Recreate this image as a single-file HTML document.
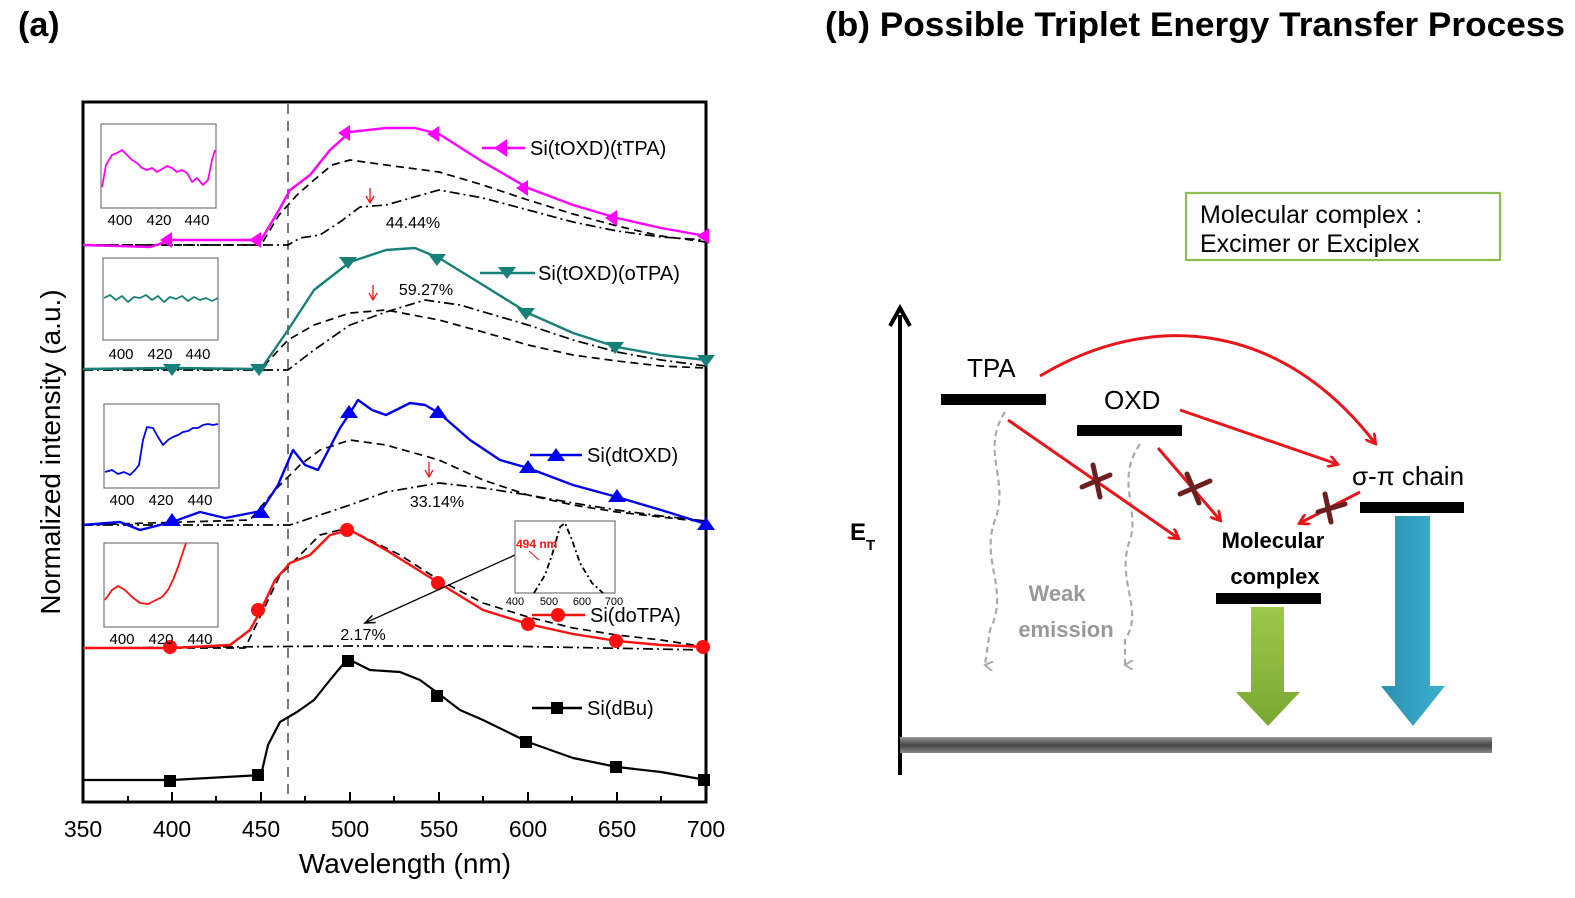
<!DOCTYPE html>
<html><head><meta charset="utf-8"><style>html,body{margin:0;padding:0;background:#fff}svg{display:block}</style></head>
<body>
<svg width="1575" height="898" viewBox="0 0 1575 898" xmlns="http://www.w3.org/2000/svg" font-family="Liberation Sans, sans-serif">
<defs>
<marker id="ra" markerWidth="12" markerHeight="12" refX="9" refY="6" orient="auto" markerUnits="userSpaceOnUse"><path d="M0,0 L10,6 L0,12" fill="none" stroke="#e8161a" stroke-width="2.8"/></marker>
<marker id="ga" markerWidth="10" markerHeight="10" refX="5" refY="8" orient="auto" markerUnits="userSpaceOnUse"><path d="M0,0 L5,8 L10,0" fill="none" stroke="#aaa" stroke-width="2"/></marker>
<marker id="ka" markerWidth="12" markerHeight="10" refX="10" refY="5" orient="auto" markerUnits="userSpaceOnUse"><path d="M0,1 L10,5 L0,9" fill="none" stroke="#000" stroke-width="1.5"/></marker>
<linearGradient id="gr" x1="0" y1="0" x2="0" y2="1"><stop offset="0" stop-color="#9cc94a"/><stop offset="1" stop-color="#7aa732"/></linearGradient>
<linearGradient id="bl" x1="0" y1="0" x2="1" y2="0"><stop offset="0" stop-color="#2b90b0"/><stop offset="1" stop-color="#3bb0d0"/></linearGradient>
<linearGradient id="gnd" x1="0" y1="0" x2="0" y2="1"><stop offset="0" stop-color="#999"/><stop offset="0.5" stop-color="#444"/><stop offset="1" stop-color="#888"/></linearGradient>
</defs>
<text x="18" y="36" font-size="34" font-weight="bold" font-family="Liberation Sans Narrow, Liberation Sans, sans-serif">(a)</text>
<text x="825" y="36" font-size="34" font-weight="bold" font-family="Liberation Sans Narrow, Liberation Sans, sans-serif" textLength="740" lengthAdjust="spacingAndGlyphs">(b)  Possible Triplet Energy Transfer Process</text>

<rect x="83" y="102" width="623" height="700" fill="none" stroke="#000" stroke-width="3"/>
<g stroke="#000" stroke-width="2">
<line x1="83" y1="802" x2="83" y2="792"/><line x1="128" y1="802" x2="128" y2="796"/><line x1="172" y1="802" x2="172" y2="792"/><line x1="216" y1="802" x2="216" y2="796"/><line x1="261" y1="802" x2="261" y2="792"/><line x1="305" y1="802" x2="305" y2="796"/><line x1="350" y1="802" x2="350" y2="792"/><line x1="394" y1="802" x2="394" y2="796"/><line x1="439" y1="802" x2="439" y2="792"/><line x1="483" y1="802" x2="483" y2="796"/><line x1="528" y1="802" x2="528" y2="792"/><line x1="572" y1="802" x2="572" y2="796"/><line x1="617" y1="802" x2="617" y2="792"/><line x1="661" y1="802" x2="661" y2="796"/>
</g>
<g font-size="23" text-anchor="middle">
<text x="83" y="837">350</text><text x="172" y="837">400</text><text x="261" y="837">450</text><text x="350" y="837">500</text><text x="439" y="837">550</text><text x="528" y="837">600</text><text x="617" y="837">650</text><text x="706" y="837">700</text>
</g>
<text x="405" y="873" font-size="28" text-anchor="middle">Wavelength (nm)</text>
<text transform="translate(60,452) rotate(-90)" font-size="28" text-anchor="middle">Normalized intensity (a.u.)</text>
<line x1="288" y1="104" x2="288" y2="800" stroke="#777" stroke-width="2" stroke-dasharray="10,7"/>

<g fill="none" stroke-linejoin="round">
<polyline stroke="#000" stroke-width="1.7" stroke-dasharray="8,5" points="83,245 261,245 279,215 297,195 314,180 332,165 350,160 386,165 439,172 483,185 528,200 573,214 617,226 661,236 706,242"/>
<polyline stroke="#000" stroke-width="1.7" stroke-dasharray="10,4,2,4" points="83,245 288,245 300,238 320,235 340,222 360,207 386,205 439,190 483,198 528,210 573,222 617,231 661,237 706,240"/>
<polyline stroke="#ff00ff" stroke-width="2.4" points="83,245 150,247 172,240 261,240 279,210 290,190 310,175 330,150 350,132 386,128 415,128 439,134 483,162 528,188 573,205 617,218 661,228 706,236"/>
<polyline stroke="#000" stroke-width="1.7" stroke-dasharray="8,5" points="83,369 261,369 288,340 314,325 350,313 386,310 439,320 483,332 528,345 573,355 617,361 661,366 706,368"/>
<polyline stroke="#000" stroke-width="1.7" stroke-dasharray="10,4,2,4" points="83,370 288,370 314,350 350,325 386,312 425,300 460,305 528,325 573,340 617,352 661,360 706,366"/>
<polyline stroke="#178078" stroke-width="2.4" points="83,369 172,368 261,369 288,330 314,290 350,262 386,250 415,248 439,258 483,285 528,313 573,333 617,347 661,355 706,360"/>
<polyline stroke="#000" stroke-width="1.7" stroke-dasharray="8,5" points="83,525 250,520 275,490 300,465 320,450 350,440 386,445 439,460 483,480 528,495 573,505 617,512 661,517 706,522"/>
<polyline stroke="#000" stroke-width="1.7" stroke-dasharray="10,4,2,4" points="83,525 290,525 320,515 350,505 386,492 439,483 483,488 528,495 573,503 617,510 661,516 706,521"/>
<polyline stroke="#0000ee" stroke-width="2.4" points="83,525 120,522 140,530 172,522 200,512 225,518 261,511 278,485 293,450 305,465 318,470 340,428 350,413 358,400 372,410 386,415 410,403 425,405 439,413 470,440 500,460 528,468 573,485 617,497 661,510 706,524"/>
<polyline stroke="#000" stroke-width="1.7" stroke-dasharray="10,4,2,4" points="83,648 350,646 500,646 706,650"/>
<polyline stroke="#000" stroke-width="1.7" stroke-dasharray="8,5" points="83,648 245,648 261,615 280,575 300,555 320,535 340,530 360,535 400,555 439,580 483,603 528,617 573,628 617,635 661,640 706,647"/>
<polyline stroke="#ff1010" stroke-width="2.4" points="83,648 172,648 230,645 250,630 261,610 275,580 290,563 310,555 330,535 350,530 386,550 439,583 483,610 528,624 573,634 617,641 661,645 706,647"/>
<polyline stroke="#000" stroke-width="2.2" points="83,780 172,780 261,775 268,745 280,722 297,712 314,700 330,680 345,662 350,660 370,670 400,672 420,680 439,694 460,710 483,720 528,742 573,758 617,767 661,772 706,780"/>
</g>
<g fill="#ff00ff">
<path d="M160,240 l12,-8 v16z"/><path d="M249,240 l12,-8 v16z"/><path d="M338,133 l12,-8 v16z"/><path d="M427,134 l12,-8 v16z"/><path d="M516,188 l12,-8 v16z"/><path d="M605,218 l12,-8 v16z"/><path d="M697,236 l12,-8 v16z"/>
</g>
<g fill="#178078">
<path d="M163,364 h18 l-9,12z"/><path d="M250,364 h18 l-9,12z"/><path d="M339,257 h18 l-9,12z"/><path d="M428,254 h18 l-9,12z"/><path d="M517,308 h18 l-9,12z"/><path d="M606,342 h18 l-9,12z"/><path d="M697,355 h18 l-9,12z"/>
</g>
<g fill="#0000ee">
<path d="M163,526 l9,-13 l9,13z"/><path d="M252,518 l9,-13 l9,13z"/><path d="M340,418 l9,-13 l9,13z"/><path d="M429,418 l9,-13 l9,13z"/><path d="M519,473 l9,-13 l9,13z"/><path d="M608,502 l9,-13 l9,13z"/><path d="M697,530 l9,-13 l9,13z"/>
</g>
<g fill="#ff1010">
<circle cx="170" cy="647" r="7"/><circle cx="258" cy="610" r="7"/><circle cx="347" cy="530" r="7"/><circle cx="438" cy="583" r="7"/><circle cx="528" cy="624" r="7"/><circle cx="616" cy="641" r="7"/><circle cx="703" cy="647" r="7"/>
</g>
<g fill="#000">
<rect x="164" y="775" width="12" height="12"/><rect x="252" y="769" width="12" height="12"/><rect x="342" y="655" width="12" height="12"/><rect x="431" y="690" width="12" height="12"/><rect x="520" y="736" width="12" height="12"/><rect x="610" y="761" width="12" height="12"/><rect x="698" y="774" width="12" height="12"/>
</g>

<g fill="none" stroke="#ff1010" stroke-width="1.3">
<path d="M370,188 v14 M366,196 l4,7 l4,-7"/><path d="M373,285 v14 M369,293 l4,7 l4,-7"/><path d="M429,462 v14 M425,470 l4,7 l4,-7"/>
</g>
<g font-size="16" text-anchor="middle">
<text x="413" y="228">44.44%</text><text x="426" y="295">59.27%</text><text x="437" y="507">33.14%</text><text x="363" y="640">2.17%</text>
</g>
<line x1="515" y1="555" x2="365" y2="623" stroke="#000" stroke-width="1.3" marker-end="url(#ka)"/>

<g stroke-width="2.4">
<line x1="482" y1="148" x2="525" y2="148" stroke="#ff00ff"/><path d="M494,148 l13,-9 v18z" fill="#ff00ff"/>
<line x1="480" y1="273" x2="535" y2="273" stroke="#178078"/><path d="M498,267 h18 l-9,12z" fill="#178078"/>
<line x1="530" y1="455" x2="582" y2="455" stroke="#0000ee"/><path d="M547,461 l9,-13 l9,13z" fill="#0000ee"/>
<line x1="532" y1="615" x2="585" y2="615" stroke="#ff1010"/><circle cx="558" cy="615" r="7" fill="#ff1010"/>
<line x1="532" y1="708" x2="582" y2="708" stroke="#000"/><rect x="551" y="702" width="12" height="12" fill="#000"/>
</g>
<g font-size="20">
<text x="530" y="155">Si(tOXD)(tTPA)</text><text x="538" y="280">Si(tOXD)(oTPA)</text><text x="587" y="462">Si(dtOXD)</text><text x="590" y="622">Si(doTPA)</text><text x="587" y="715">Si(dBu)</text>
</g>

<g fill="none" stroke="#777" stroke-width="1.2">
<rect x="101" y="124" width="115" height="84"/><rect x="103" y="258" width="115" height="82"/><rect x="104" y="404" width="115" height="84"/><rect x="104" y="543" width="114" height="84"/><rect x="515" y="521" width="100" height="72"/>
</g>
<g font-size="15" text-anchor="middle">
<text x="120" y="225">400</text><text x="159" y="225">420</text><text x="197" y="225">440</text>
<text x="121" y="359">400</text><text x="160" y="359">420</text><text x="198" y="359">440</text>
<text x="122" y="505">400</text><text x="161" y="505">420</text><text x="200" y="505">440</text>
<text x="122" y="644">400</text><text x="161" y="644">420</text><text x="200" y="644">440</text>
</g>
<g font-size="11" text-anchor="middle"><text x="515" y="605">400</text><text x="549" y="605">500</text><text x="582" y="605">600</text><text x="614" y="605">700</text></g>
<g fill="none" stroke-width="1.8" stroke-linejoin="round">
<polyline stroke="#ff00ff" points="102,187 106,165 112,155 117,153 122,150 127,155 132,160 137,163 142,168 147,170 152,168 157,172 162,169 167,166 172,168 177,172 182,170 187,173 192,182 197,178 203,185 208,180 212,160 215,150"/>
<polyline stroke="#178078" points="104,298 110,295 116,300 122,296 128,302 134,297 140,298 146,295 152,300 158,296 164,302 170,297 176,299 182,296 188,301 194,297 200,300 206,298 212,301 218,298"/>
<polyline stroke="#0000ee" points="105,472 112,470 118,474 124,472 130,475 135,470 139,465 143,440 147,427 153,428 158,437 163,445 168,440 173,437 178,435 183,432 188,431 193,428 198,428 203,425 208,424 213,425 218,424"/>
<polyline stroke="#ff1010" points="105,600 112,590 118,586 125,590 132,597 140,603 148,604 156,600 162,597 168,590 173,580 178,567 183,552 186,543"/>
<polyline stroke="#000" stroke-dasharray="6,3,2,3" points="534,593 545,575 552,555 560,527 565,523 572,540 580,563 592,583 603,593"/>
</g>
<text x="516" y="548" font-size="12" font-weight="bold" fill="#ff1010">494 nm</text>
<line x1="529" y1="551" x2="539" y2="560" stroke="#ff1010" stroke-width="1"/>

<line x1="900" y1="775" x2="900" y2="315" stroke="#000" stroke-width="4"/>
<path d="M890,326 L900,308 L910,326" fill="none" stroke="#000" stroke-width="4"/>
<rect x="900" y="737" width="592" height="16" fill="url(#gnd)"/>
<text x="850" y="540" font-size="24" font-weight="bold">E</text><text x="866" y="550" font-size="15" font-weight="bold">T</text>
<rect x="1186" y="193" width="314" height="67" fill="none" stroke="#8cbf50" stroke-width="2.2"/>
<text x="1200" y="223" font-size="25">Molecular complex :</text>
<text x="1200" y="252" font-size="25">Excimer or Exciplex</text>
<g fill="#000">
<rect x="941" y="394" width="105" height="11"/><rect x="1077" y="425" width="105" height="11"/><rect x="1360" y="502" width="104" height="11"/><rect x="1216" y="593" width="105" height="11"/>
</g>
<g font-size="26"><text x="967" y="377">TPA</text><text x="1104" y="409">OXD</text><text x="1352" y="485">σ-π chain</text></g>
<g font-size="22" font-weight="bold" text-anchor="middle"><text x="1273" y="548">Molecular</text><text x="1275" y="584">complex</text></g>
<g font-size="22" font-weight="bold" fill="#999" text-anchor="middle"><text x="1057" y="601">Weak</text><text x="1066" y="637">emission</text></g>
<g fill="none" stroke="#aaa" stroke-width="2.2" stroke-dasharray="6,4">
<path d="M1005,412 C980,450 1010,480 995,520 C980,560 1010,590 990,630 L985,665" marker-end="url(#ga)"/>
<path d="M1140,444 C1115,480 1140,510 1130,540 C1115,580 1145,610 1125,640 L1125,665" marker-end="url(#ga)"/>
</g>
<g fill="none" stroke="#e8161a" stroke-width="3">
<path d="M1040,376 C1150,310 1280,320 1375,443" marker-end="url(#ra)"/>
<path d="M1180,410 L1337,464" marker-end="url(#ra)"/>
<path d="M1008,420 L1178,538" marker-end="url(#ra)"/>
<path d="M1158,448 L1220,520" marker-end="url(#ra)"/>
<path d="M1360,492 L1300,523" marker-end="url(#ra)"/>
</g>
<g stroke="#6b1f1f" stroke-width="5" stroke-linecap="round">
<path d="M1082,487 L1110,475 M1093,465 L1100,497"/><path d="M1180,494 L1210,481 M1187,474 L1199,503"/><path d="M1318,512 L1345,504 M1325,494 L1331,522"/>
</g>
<path d="M1251,607 h33 v85 h16 l-32,34 l-32,-34 h15z" fill="url(#gr)"/>
<path d="M1395,516 h35 v170 h15 l-32,40 l-32,-40 h14z" fill="url(#bl)"/>
</svg>
</body></html>
